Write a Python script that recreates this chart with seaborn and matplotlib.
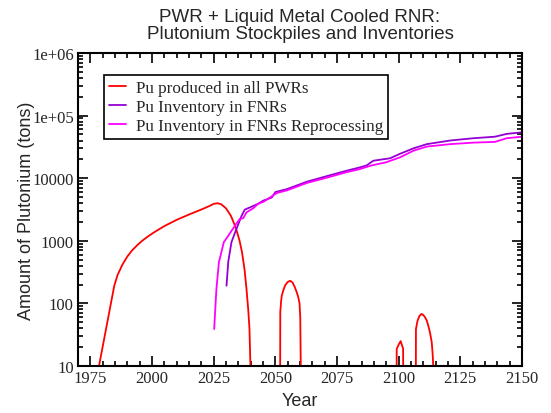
import numpy as np
import pandas as pd
import matplotlib
matplotlib.use("Agg")
import matplotlib.pyplot as plt
import seaborn as sns

# 数据
red_year = [1978.5, 1984.7, 1986.0, 1988.0, 1990.0, 1992.0, 1994.0, 1996.0, 1998.0, 2001.0,
            2005.0, 2010.0, 2015.0, 2020.0, 2023.0, 2025.0, 2026.5, 2028.0, 2030.0, 2032.0,
            2034.0, 2035.5, 2036.5, 2037.5, 2038.3, 2039.0, 2039.5, 2039.9,
            2051.9, 2052.0, 2052.3, 2052.6, 2053.3, 2054.0, 2055.0, 2056.0, 2057.0, 2057.8,
            2058.7, 2059.3, 2059.8, 2060.1, 2060.3,
            2099.1, 2099.2, 2100.0, 2100.8, 2101.4, 2101.8, 2101.9,
            2106.9, 2107.0, 2107.6, 2108.4, 2109.3, 2110.0, 2110.7, 2111.4, 2112.0, 2112.7,
            2113.4, 2113.8, 2114.0]
red_pu = [10, 192, 282, 417, 562, 708, 851, 1000, 1148, 1380,
          1718, 2163, 2630, 3162, 3550, 3890, 3980, 3850, 3300, 2500,
          1600, 1000, 650, 350, 170, 80, 40, 10,
          1, 73, 105, 133, 165, 195, 220, 230, 215, 185,
          150, 125, 100, 60, 10,
          1, 18.7, 22, 25, 21, 19, 1,
          1, 39, 52, 63, 68, 65, 60, 53, 44, 34,
          24, 15, 10]

fnr_year = [2030.2, 2030.9, 2032.2, 2034.2, 2036.3, 2037.6, 2039.6, 2041.7, 2043.0, 2045.2,
            2048.5, 2050.0, 2054.7, 2062.8, 2070.9, 2079.0, 2084.3, 2087.0, 2089.7, 2096.5,
            2100.5, 2106.0, 2111.4, 2120.9, 2130.3, 2139.0, 2143.8, 2150.0]
fnr_pu = [192, 460, 950, 1540, 2500, 3150, 3400, 3700, 3900, 4400,
          4900, 6000, 6700, 8800, 10800, 13200, 14900, 16000, 19000, 20800,
          24500, 30000, 35000, 40000, 43500, 46000, 51000, 54000]

rep_year = [2025.2, 2026.1, 2027.1, 2029.1, 2030.9, 2033.6, 2035.6, 2037.0, 2038.3, 2041.0,
            2043.0, 2045.2, 2050.6, 2054.7, 2062.8, 2070.9, 2079.0, 2084.3, 2089.0, 2095.0,
            2100.5, 2106.0, 2111.4, 2120.9, 2130.3, 2139.0, 2143.8, 2150.0]
rep_pu = [39, 170, 450, 950, 1200, 1740, 2240, 2300, 2850, 3300,
          3900, 4200, 5800, 6400, 8400, 10200, 12500, 14000, 16000, 18000,
          21500, 27500, 32000, 35000, 37000, 38000, 43500, 46000]

y_ticks = [10, 100, 1000, 10000, 1e5, 1e6]
y_tick_labels = ["10", "100", "1000", "10000", "1e+05", "1e+06"]
x_ticks = [1975, 2000, 2025, 2050, 2075, 2100, 2125, 2150]

sns.set_style("ticks")
plt.rcParams["font.family"] = ["Liberation Sans", "DejaVu Sans"]

fig = plt.figure(figsize=(5.51, 4.14), dpi=100)
ax = fig.add_axes([0.1416, 0.1135, 0.8058, 0.7561])

sns.lineplot(x=red_year, y=red_pu, ax=ax, color="#ff0000", lw=1.3,
             estimator=None, sort=False, label="Pu produced in all PWRs")
sns.lineplot(x=fnr_year, y=fnr_pu, ax=ax, color="#9400d3", lw=1.3,
             estimator=None, sort=False, label="Pu Inventory in FNRs")
sns.lineplot(x=rep_year, y=rep_pu, ax=ax, color="#ff00ff", lw=1.3,
             estimator=None, sort=False, label="Pu Inventory in FNRs Reprocessing")

ax.set_yscale("log")
ax.set_xlim(1970, 2150)
ax.set_ylim(10, 1e6)
ax.set_yticks(y_ticks, y_tick_labels)
ax.set_xticks(x_ticks, [str(t) for t in x_ticks])
ax.xaxis.set_minor_locator(plt.MultipleLocator(5))

serif = ["Liberation Serif", "DejaVu Serif"]
for lab in ax.get_xticklabels() + ax.get_yticklabels():
    lab.set_family(serif)
    lab.set_fontsize(12)

ax.tick_params(which="both", direction="in", top=True, right=True, color="black", width=1.2)
ax.tick_params(which="major", length=7, pad=3)
ax.tick_params(which="minor", length=3.5)
for s in ax.spines.values():
    s.set_linewidth(1.5)
    s.set_color("black")

ax.set_xlabel("Year", fontsize=13)
ax.set_ylabel("Amount of Plutonium (tons)", fontsize=13)
ax.yaxis.set_label_coords(-0.096, 0.5)
ax.set_title("PWR + Liquid Metal Cooled RNR:\nPlutonium Stockpiles and Inventories",
             fontsize=13.5, pad=11, linespacing=1.0)

leg = ax.legend(loc="upper left", bbox_to_anchor=(0.059, 0.931), borderaxespad=0,
                frameon=True, fancybox=False, framealpha=1, edgecolor="black",
                prop={"family": serif, "size": 12.3}, handlelength=1.0,
                handletextpad=0.55, labelspacing=0.18, borderpad=0.3)
leg.get_frame().set_linewidth(1.2)

fig.savefig("out.png", dpi=100)
